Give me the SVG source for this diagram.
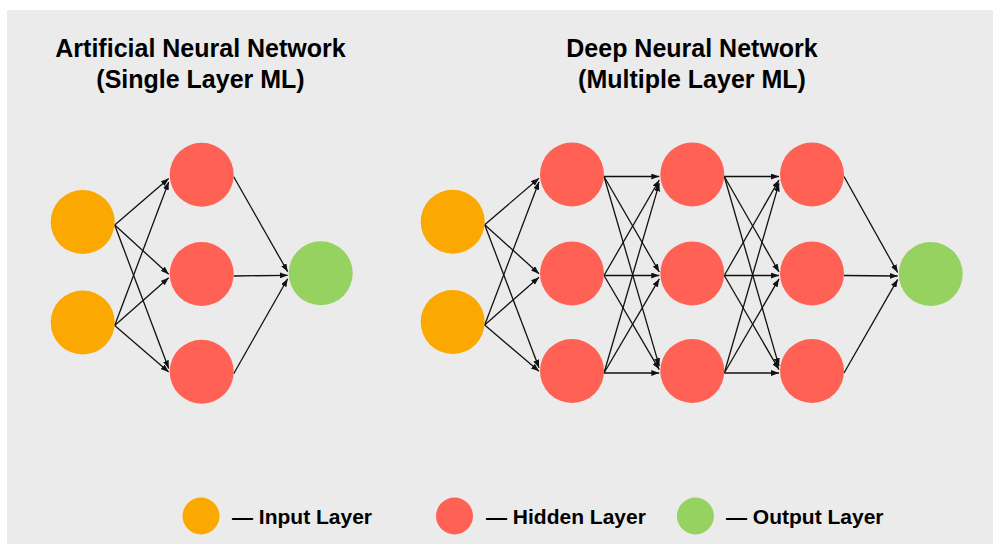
<svg xmlns="http://www.w3.org/2000/svg" width="993" height="544" viewBox="0 0 993 544">
<defs>
<marker id="ah" markerUnits="userSpaceOnUse" markerWidth="8" markerHeight="6" refX="8" refY="3" orient="auto">
<path d="M0,0 L8,3 L0,6 z" fill="#111"/>
</marker>
<style>
.title{font-family:"Liberation Sans",Arial,sans-serif;font-weight:bold;font-size:25px;fill:#000;text-anchor:middle}
.leg{font-family:"Liberation Sans",Arial,sans-serif;font-weight:bold;font-size:21px;fill:#000}
.in{fill:#FBA800}
.hid{fill:#FF6154}
.out{fill:#96D25F}
#edges line{stroke:#111;stroke-width:1.3;marker-end:url(#ah)}
</style>
</defs>
<rect x="0" y="0" width="993" height="544" fill="#ffffff"/>
<rect x="7" y="10" width="986" height="534" fill="#ebebeb"/>

<g id="titles">
<text class="title" x="200.5" y="57">Artificial Neural Network</text>
<text class="title" x="200.5" y="88">(Single Layer ML)</text>
<text class="title" x="692" y="57">Deep Neural Network</text>
<text class="title" x="692" y="88">(Multiple Layer ML)</text>
</g>

<g id="edges">
<!-- left network -->
<line x1="114.7" y1="225" x2="168.7" y2="178.4"/>
<line x1="114.7" y1="225" x2="168.7" y2="274.2"/>
<line x1="114.7" y1="225" x2="168.7" y2="368.5"/>
<line x1="114.7" y1="325.5" x2="168.7" y2="181.9"/>
<line x1="114.7" y1="325.5" x2="168.7" y2="277.7"/>
<line x1="114.7" y1="325.5" x2="168.7" y2="372"/>
<line x1="233.7" y1="176.7" x2="287.7" y2="271.8"/>
<line x1="233.7" y1="276" x2="287.7" y2="275.3"/>
<line x1="233.7" y1="373.7" x2="287.7" y2="278.7"/>
<!-- right network: input -> hidden 1 -->
<line x1="484.7" y1="224.7" x2="539" y2="178.2"/>
<line x1="484.7" y1="224.7" x2="539" y2="273.7"/>
<line x1="484.7" y1="224.7" x2="539" y2="367.8"/>
<line x1="484.7" y1="325" x2="539" y2="181.7"/>
<line x1="484.7" y1="325" x2="539" y2="277.2"/>
<line x1="484.7" y1="325" x2="539" y2="371.3"/>
<!-- hidden 1 -> hidden 2 -->
<line x1="604" y1="176.5" x2="659.3" y2="176.5"/>
<line x1="604" y1="176.5" x2="659.3" y2="272"/>
<line x1="604" y1="176.5" x2="659.3" y2="366.1"/>
<line x1="604" y1="275.5" x2="659.3" y2="180"/>
<line x1="604" y1="275.5" x2="659.3" y2="275.5"/>
<line x1="604" y1="275.5" x2="659.3" y2="369.6"/>
<line x1="604" y1="373" x2="659.3" y2="183.4"/>
<line x1="604" y1="373" x2="659.3" y2="278.9"/>
<line x1="604" y1="373" x2="659.3" y2="373"/>
<!-- hidden 2 -> hidden 3 -->
<line x1="724.3" y1="176.5" x2="779" y2="176.5"/>
<line x1="724.3" y1="176.5" x2="779" y2="272"/>
<line x1="724.3" y1="176.5" x2="779" y2="366.1"/>
<line x1="724.3" y1="275.5" x2="779" y2="180"/>
<line x1="724.3" y1="275.5" x2="779" y2="275.5"/>
<line x1="724.3" y1="275.5" x2="779" y2="369.6"/>
<line x1="724.3" y1="373" x2="779" y2="183.4"/>
<line x1="724.3" y1="373" x2="779" y2="278.9"/>
<line x1="724.3" y1="373" x2="779" y2="373"/>
<!-- hidden 3 -> output -->
<line x1="844" y1="176.5" x2="897.7" y2="272.5"/>
<line x1="844" y1="275.5" x2="897.7" y2="276"/>
<line x1="844" y1="373" x2="897.7" y2="279.4"/>
</g>

<g id="ann-input-1"><circle class="in" cx="82.7" cy="222" r="32"/></g>
<g id="ann-input-2"><circle class="in" cx="82.7" cy="322.5" r="32"/></g>
<g id="ann-hidden-1"><circle class="hid" cx="201.7" cy="174.7" r="32"/></g>
<g id="ann-hidden-2"><circle class="hid" cx="201.7" cy="274" r="32"/></g>
<g id="ann-hidden-3"><circle class="hid" cx="201.7" cy="371.7" r="32"/></g>
<g id="ann-output"><circle class="out" cx="320.7" cy="273.3" r="32"/></g>

<g id="dnn-input-1"><circle class="in" cx="452.7" cy="221.7" r="32"/></g>
<g id="dnn-input-2"><circle class="in" cx="452.7" cy="322" r="32"/></g>
<g id="dnn-h1-1"><circle class="hid" cx="572" cy="174.5" r="32"/></g>
<g id="dnn-h1-2"><circle class="hid" cx="572" cy="273.5" r="32"/></g>
<g id="dnn-h1-3"><circle class="hid" cx="572" cy="371" r="32"/></g>
<g id="dnn-h2-1"><circle class="hid" cx="692.3" cy="174.5" r="32"/></g>
<g id="dnn-h2-2"><circle class="hid" cx="692.3" cy="273.5" r="32"/></g>
<g id="dnn-h2-3"><circle class="hid" cx="692.3" cy="371" r="32"/></g>
<g id="dnn-h3-1"><circle class="hid" cx="812" cy="174.5" r="32"/></g>
<g id="dnn-h3-2"><circle class="hid" cx="812" cy="273.5" r="32"/></g>
<g id="dnn-h3-3"><circle class="hid" cx="812" cy="371" r="32"/></g>
<g id="dnn-output"><circle class="out" cx="930.7" cy="274" r="32"/></g>

<g id="legend-input"><circle class="in" cx="201" cy="516" r="18.5"/><text class="leg" x="232" y="523.5">— Input Layer</text></g>
<g id="legend-hidden"><circle class="hid" cx="454.5" cy="516" r="18.5"/><text class="leg" x="486" y="523.5">— Hidden Layer</text></g>
<g id="legend-output"><circle class="out" cx="695.4" cy="516" r="18.5"/><text class="leg" x="726" y="523.5">— Output Layer</text></g>
</svg>
